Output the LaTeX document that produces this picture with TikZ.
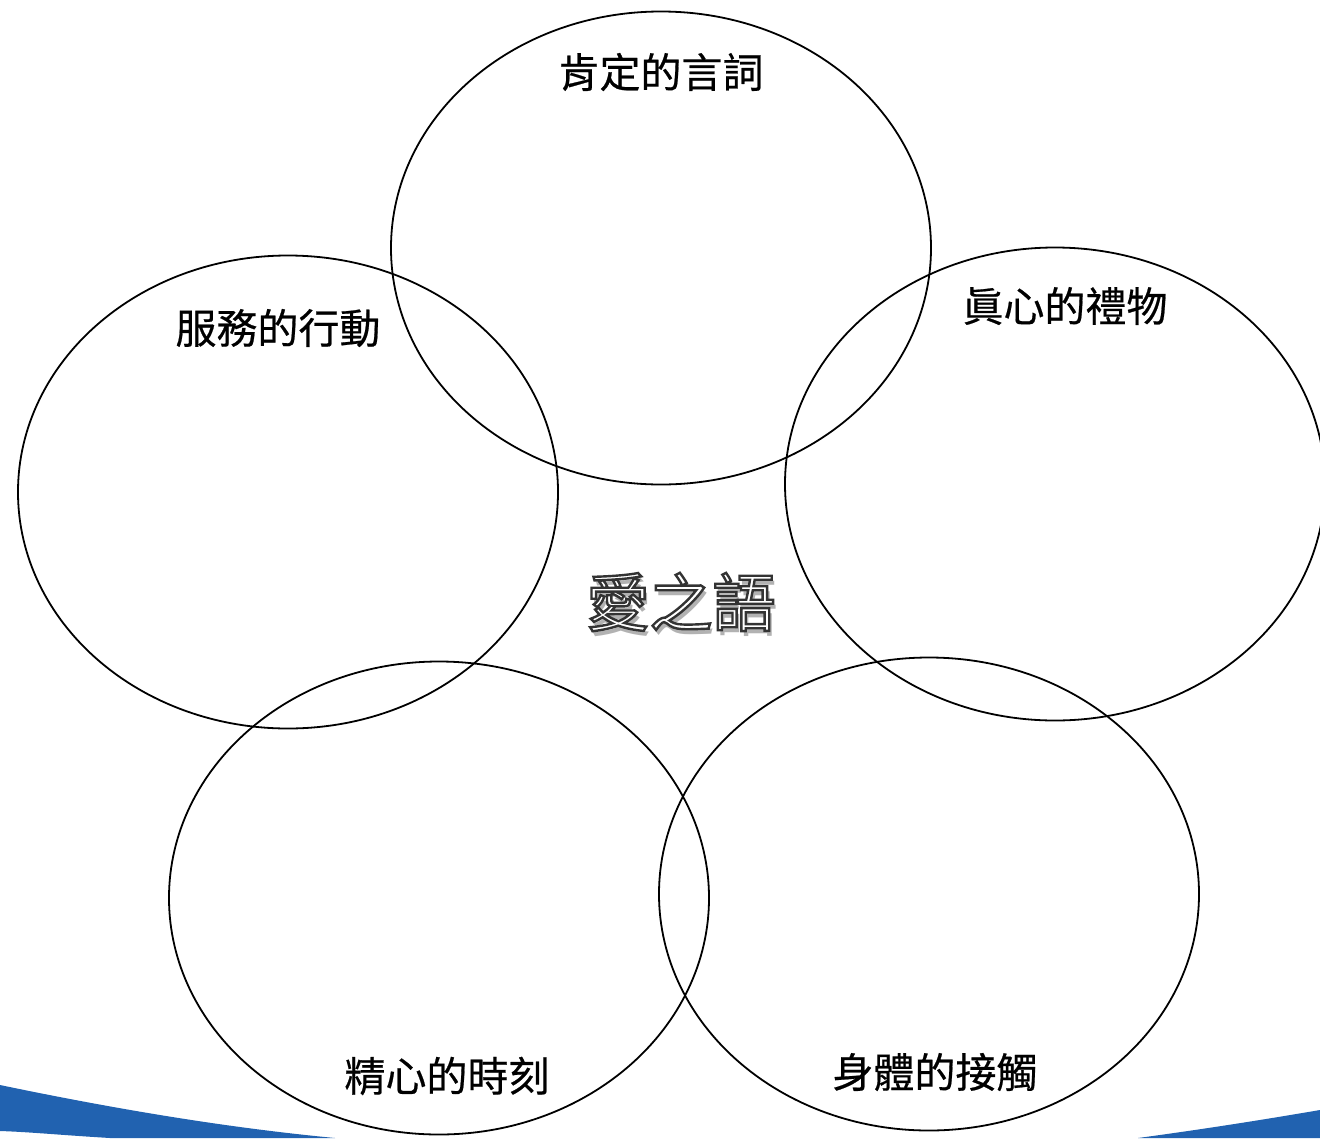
\documentclass[tikz,border=0pt]{standalone}
\usepackage{fontspec}
\newfontfamily\cjk[FakeBold=0.5]{Noto Sans CJK TC}
\newfontfamily\cjkc{Noto Sans CJK TC}
\usetikzlibrary{shapes.geometric}
\definecolor{bandblue}{RGB}{33,98,176}
\newcommand{\outlinetext}[1]{\special{pdf:literal direct 2 Tr 2.4 w 0.2 G 1 g}#1\special{pdf:literal direct 0 Tr}}
\tikzset{
  lovering/.style={draw=black, line width=1.8pt, ellipse, minimum width=540pt, minimum height=473pt, inner sep=0pt},
  lbl/.style={font=\cjk\fontsize{41}{43}\selectfont, text=black, inner sep=0pt},
  ctr/.style={font=\cjkc\fontsize{63}{65}\selectfont, inner sep=0pt}
}
\begin{document}
\begin{tikzpicture}[x=1pt,y=-1pt]
\useasboundingbox (0,0) rectangle (1320,1138);
\fill[white] (0,0) rectangle (1320,1138);
% blue band
\fill[bandblue] (0,1085) .. controls (120,1110) and (230,1128) .. (335,1138) -- (110,1138) .. controls (60,1135) and (30,1132) .. (0,1131) -- cycle;
\fill[bandblue] (1320,1110) .. controls (1250,1122) and (1190,1131) .. (1138,1138) -- (1320,1138) -- cycle;
% ellipses
\node[lovering] (top) at (661,248) {};
\node[lovering] (left) at (288,492) {};
\node[lovering] (right) at (1055,484) {};
\node[lovering] (bl) at (439,898) {};
\node[lovering] (br) at (929,894) {};
% labels
\node[lbl] (ltop) at (661,72) {肯定的言詞};
\node[lbl] (lleft) at (278,328) {服務的行動};
\node[lbl] (lright) at (1065,306) {眞心的禮物};
\node[lbl] (lbl) at (447,1076) {精心的時刻};
\node[lbl] (lbr) at (935,1072) {身體的接觸};
% center outlined text with shadow
\node[ctr, text=black!30] (shadow) at (684,607) {愛之語};
\node[ctr, text=white] (center) at (681,602) {\outlinetext{愛之語}};
\end{tikzpicture}
\end{document}
